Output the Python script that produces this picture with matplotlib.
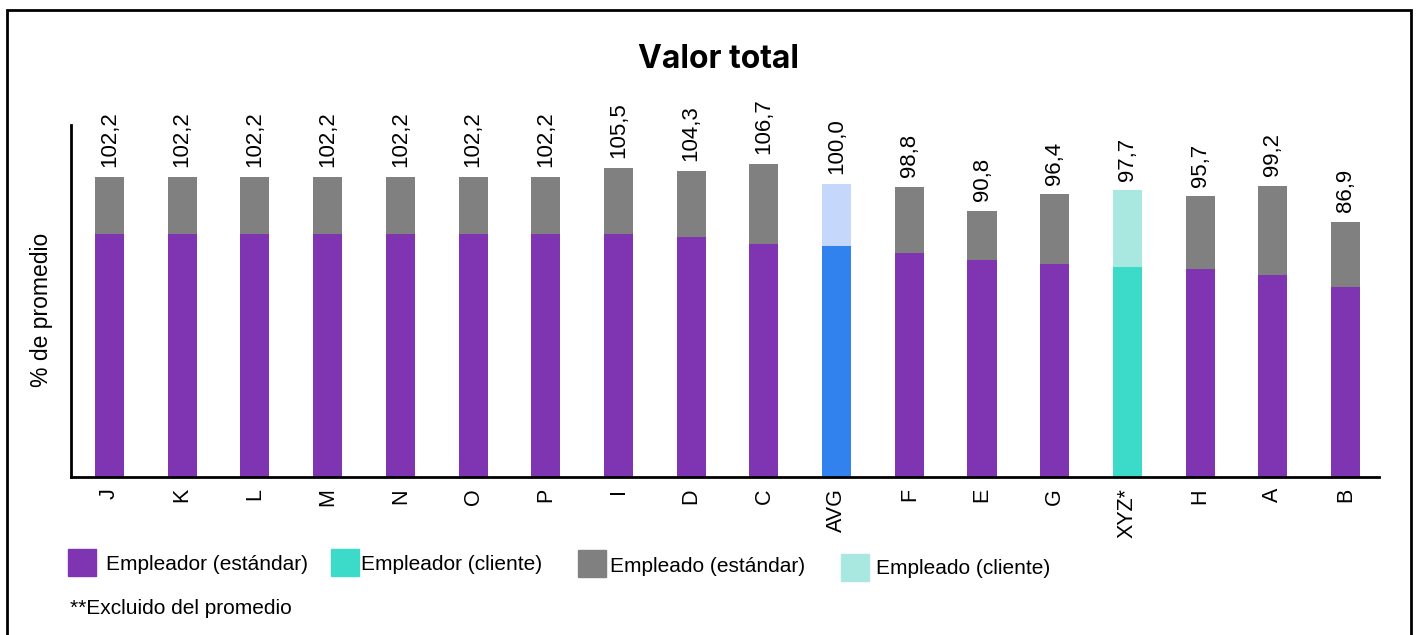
import matplotlib
matplotlib.use('Agg')
import matplotlib.pyplot as plt
from matplotlib.patches import Rectangle

plt.rcParams['font.family'] = ['Liberation Sans', 'DejaVu Sans']

categories = ['J', 'K', 'L', 'M', 'N', 'O', 'P', 'I', 'D', 'C',
              'AVG', 'F', 'E', 'G', 'XYZ*', 'H', 'A', 'B']
totals = [102.2, 102.2, 102.2, 102.2, 102.2, 102.2, 102.2, 105.5, 104.3, 106.7,
          100.0, 98.8, 90.8, 96.4, 97.7, 95.7, 99.2, 86.9]
employer = [83.0, 83.0, 83.0, 83.0, 83.0, 83.0, 83.0, 83.0, 81.9, 79.5,
            78.8, 76.5, 74.1, 72.7, 71.7, 71.0, 68.9, 64.8]
employee = [19.2, 19.2, 19.2, 19.2, 19.2, 19.2, 19.2, 22.5, 22.4, 27.2,
            21.2, 22.3, 16.7, 23.7, 26.0, 24.7, 30.3, 22.1]

PURPLE = '#7f35b1'
GRAY = '#808080'
BLUE = '#3181ee'
LIGHT_BLUE = '#c5d7fb'
TEAL = '#3cdbc9'
LIGHT_TEAL = '#a8e8e1'

low_colors = []
high_colors = []
for c in categories:
    if c == 'AVG':
        low_colors.append(BLUE)
        high_colors.append(LIGHT_BLUE)
    elif c == 'XYZ*':
        low_colors.append(TEAL)
        high_colors.append(LIGHT_TEAL)
    else:
        low_colors.append(PURPLE)
        high_colors.append(GRAY)

W, H = 1417, 635
fig = plt.figure(figsize=(W / 100, H / 100), dpi=100)
ax = fig.add_axes([71 / W, 1 - 477 / H, (1379 - 71) / W, (477 - 125) / H])

x = list(range(len(categories)))
ax.bar(x, employer, width=0.4, color=low_colors)
ax.bar(x, employee, width=0.4, bottom=employer, color=high_colors)

for xi, t, lo, hi in zip(x, totals, employer, employee):
    ax.annotate(f'{t:.1f}'.replace('.', ','), (xi, lo + hi),
                xytext=(0, 7), textcoords='offset points',
                rotation=90, ha='center', va='bottom', fontsize=16)

ax.set_xlim(-0.53, len(categories) - 0.54)
ax.set_ylim(0, 120)
ax.set_xticks(x)
ax.set_xticklabels(categories, rotation=90, fontsize=15.5)
ax.set_yticks([])
ax.tick_params(axis='x', length=0, pad=8)
for s in ['top', 'right']:
    ax.spines[s].set_visible(False)
for s in ['left', 'bottom']:
    ax.spines[s].set_linewidth(2)
ax.set_ylabel('% de promedio', fontsize=16.5)
ax.yaxis.set_label_coords(-0.0135, 0.475)

fig.text(718 / W, 1 - 60 / H, 'Valor total', ha='center', va='center',
         fontsize=23, fontweight='bold', family=['Inter', 'DejaVu Sans'])

# outer frame
fig.patches.append(Rectangle((7 / W, -0.05), (1411 - 7) / W, 1.05 - 10 / H,
                             transform=fig.transFigure, fill=False,
                             edgecolor='black', linewidth=2))

# legend
legend_items = [
    (68, 549, PURPLE, 106, 565, 'Empleador (estándar)'),
    (331, 549, TEAL, 361, 565, 'Empleador (cliente)'),
    (578, 550, GRAY, 610, 567, 'Empleado (estándar)'),
    (841, 554, LIGHT_TEAL, 876, 568, 'Empleado (cliente)'),
]
for sx, sy, col, tx, ty, label in legend_items:
    fig.patches.append(Rectangle((sx / W, 1 - (sy + 27) / H), 28 / W, 27 / H,
                                 transform=fig.transFigure, color=col))
    fig.text(tx / W, 1 - ty / H, label, ha='left', va='center', fontsize=15)

fig.text(70 / W, 1 - 609 / H, '**Excluido del promedio', ha='left',
         va='center', fontsize=15)

fig.savefig('out.png', dpi=100)
